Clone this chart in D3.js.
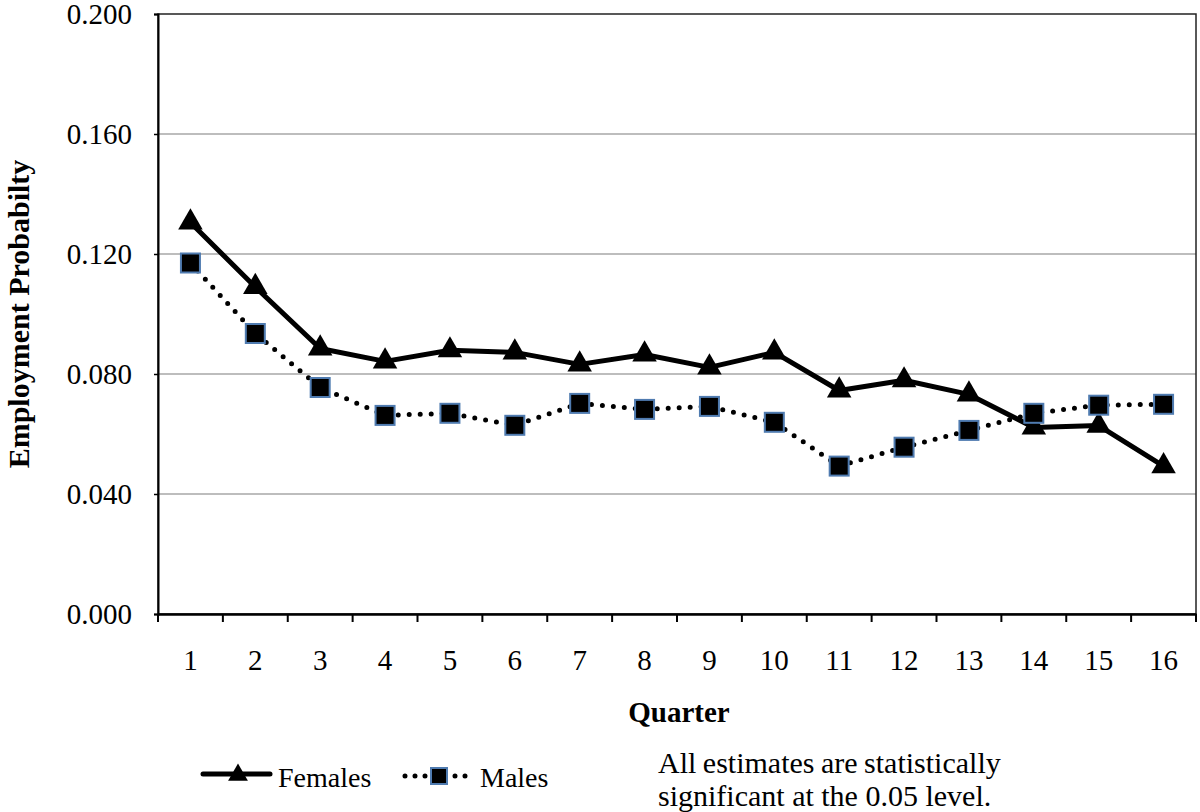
<!DOCTYPE html>
<html><head><meta charset="utf-8">
<script src="https://cdn.jsdelivr.net/npm/d3@7"></script>
<style>body{margin:0;background:#fff}svg{display:block}</style>
</head><body><svg id="c" width="1200" height="812" font-family="'Liberation Serif', 'Times New Roman', serif" style="font-family:'Liberation Serif','Times New Roman',serif"></svg>
<script>
const quarters = ["1","2","3","4","5","6","7","8","9","10","11","12","13","14","15","16"];
const females = [0.1305,0.109,0.0885,0.0842,0.0879,0.0872,0.0832,0.0865,0.0822,0.0872,0.0745,0.0779,0.0732,0.0622,0.0628,0.0493];
const males = [0.117,0.0935,0.0755,0.0662,0.0669,0.0629,0.0702,0.0682,0.0692,0.0639,0.0493,0.0556,0.0612,0.0669,0.0696,0.0699];
const yTicks = [0,0.04,0.08,0.12,0.16,0.2];

const FONT = "'Liberation Serif', 'Times New Roman', serif";
const svg = d3.select("#c");
const L=158,R=1196,T=14,B=614;
const x = d3.scaleBand().domain(quarters).range([L,R]);
const y = d3.scaleLinear().domain([0,0.2]).range([B,T]);

// gridlines
svg.append("g").selectAll("line").data(yTicks.slice(1,-1)).join("line")
  .attr("x1",L).attr("x2",R).attr("y1",d=>y(d)).attr("y2",d=>y(d))
  .attr("stroke","#bdbdbd").attr("stroke-width",2);

// frame
svg.append("rect").attr("x",L).attr("y",T).attr("width",R-L).attr("height",B-T)
  .attr("fill","none").attr("stroke","#222").attr("stroke-width",1.5);

// y axis
const ya = svg.append("g").attr("transform",`translate(${L},0)`)
  .call(d3.axisLeft(y).tickValues(yTicks).tickFormat(d3.format(".3f")).tickSize(4).tickPadding(22));
ya.attr("font-family",FONT);
ya.select(".domain").attr("stroke","#000").attr("stroke-width",2);
ya.selectAll(".tick line").attr("stroke","#000").attr("stroke-width",1.5);
ya.selectAll("text").attr("font-size",29).style("font-family",FONT);

// x axis
const xa = svg.append("g").attr("transform",`translate(0,${B})`)
  .call(d3.axisBottom(x).tickSize(0).tickPadding(35));
xa.attr("font-family",FONT);
xa.select(".domain").attr("stroke","#000").attr("stroke-width",2.5);
xa.selectAll("text").attr("font-size",29).style("font-family",FONT);
const bounds = quarters.map(q=>x(q)).concat([R]);
xa.append("g").selectAll("line").data(bounds).join("line")
  .attr("x1",d=>d).attr("x2",d=>d).attr("y1",0).attr("y2",8)
  .attr("stroke","#000").attr("stroke-width",2);

const cx = q => x(q)+x.bandwidth()/2;
const line = d3.line().x((d,i)=>cx(quarters[i])).y(d=>y(d));

// males dotted
svg.append("path").datum(males).attr("d",line).attr("fill","none")
  .attr("stroke","#000").attr("stroke-width",5).attr("stroke-linecap","round").attr("stroke-dasharray","0 11");
// females solid
svg.append("path").datum(females).attr("d",line).attr("fill","none")
  .attr("stroke","#000").attr("stroke-width",5).attr("stroke-linejoin","round");

const tri = d3.symbol().type(d3.symbolTriangle).size(260);
svg.append("g").selectAll("path").data(females).join("path")
  .attr("d",tri).attr("transform",(d,i)=>`translate(${cx(quarters[i])},${y(d)})`).attr("fill","#000");

const sq = 19;
svg.append("g").selectAll("rect").data(males).join("rect")
  .attr("x",(d,i)=>cx(quarters[i])-sq/2).attr("y",d=>y(d)-sq/2).attr("width",sq).attr("height",sq)
  .attr("fill","#000").attr("stroke","#4f7bb0").attr("stroke-width",2);

function txt(xp,yp,s,size,opts={}){
  const t = svg.append("text").attr("x",xp).attr("y",yp).attr("font-size",size)
    .attr("font-family",FONT).style("font-family",FONT).attr("fill","#000").text(s);
  if(opts.bold) t.attr("font-weight","bold");
  if(opts.anchor) t.attr("text-anchor",opts.anchor);
  if(opts.transform) t.attr("transform",opts.transform);
  if(opts.ws!==undefined) t.attr("word-spacing",opts.ws);
  return t;
}

// axis titles
txt(0,0,"Employment Probabilty",30,{bold:true,anchor:"middle",transform:"translate(29,314) rotate(-90)"});
txt(679,722,"Quarter",29,{bold:true,anchor:"middle"});

// legend
const ly = 774;
svg.append("line").attr("x1",203).attr("x2",270).attr("y1",ly).attr("y2",ly).attr("stroke","#000").attr("stroke-width",5).attr("stroke-linecap","round");
svg.append("path").attr("d",d3.symbol().type(d3.symbolTriangle).size(170)).attr("transform",`translate(238,${ly+1})`).attr("fill","#000");
txt(278,787,"Females",28);
svg.append("line").attr("x1",405).attr("x2",466).attr("y1",ly+2).attr("y2",ly+2).attr("stroke","#000").attr("stroke-width",5)
  .attr("stroke-linecap","round").attr("stroke-dasharray","0 10");
svg.append("rect").attr("x",431).attr("y",768).attr("width",16).attr("height",16)
  .attr("fill","#000").attr("stroke","#4f7bb0").attr("stroke-width",2);
txt(480,787,"Males",28);
txt(658,773,"All estimates are statistically",30,{ws:-1});
txt(658,806,"significant at the 0.05 level.",30);
</script></body></html>
